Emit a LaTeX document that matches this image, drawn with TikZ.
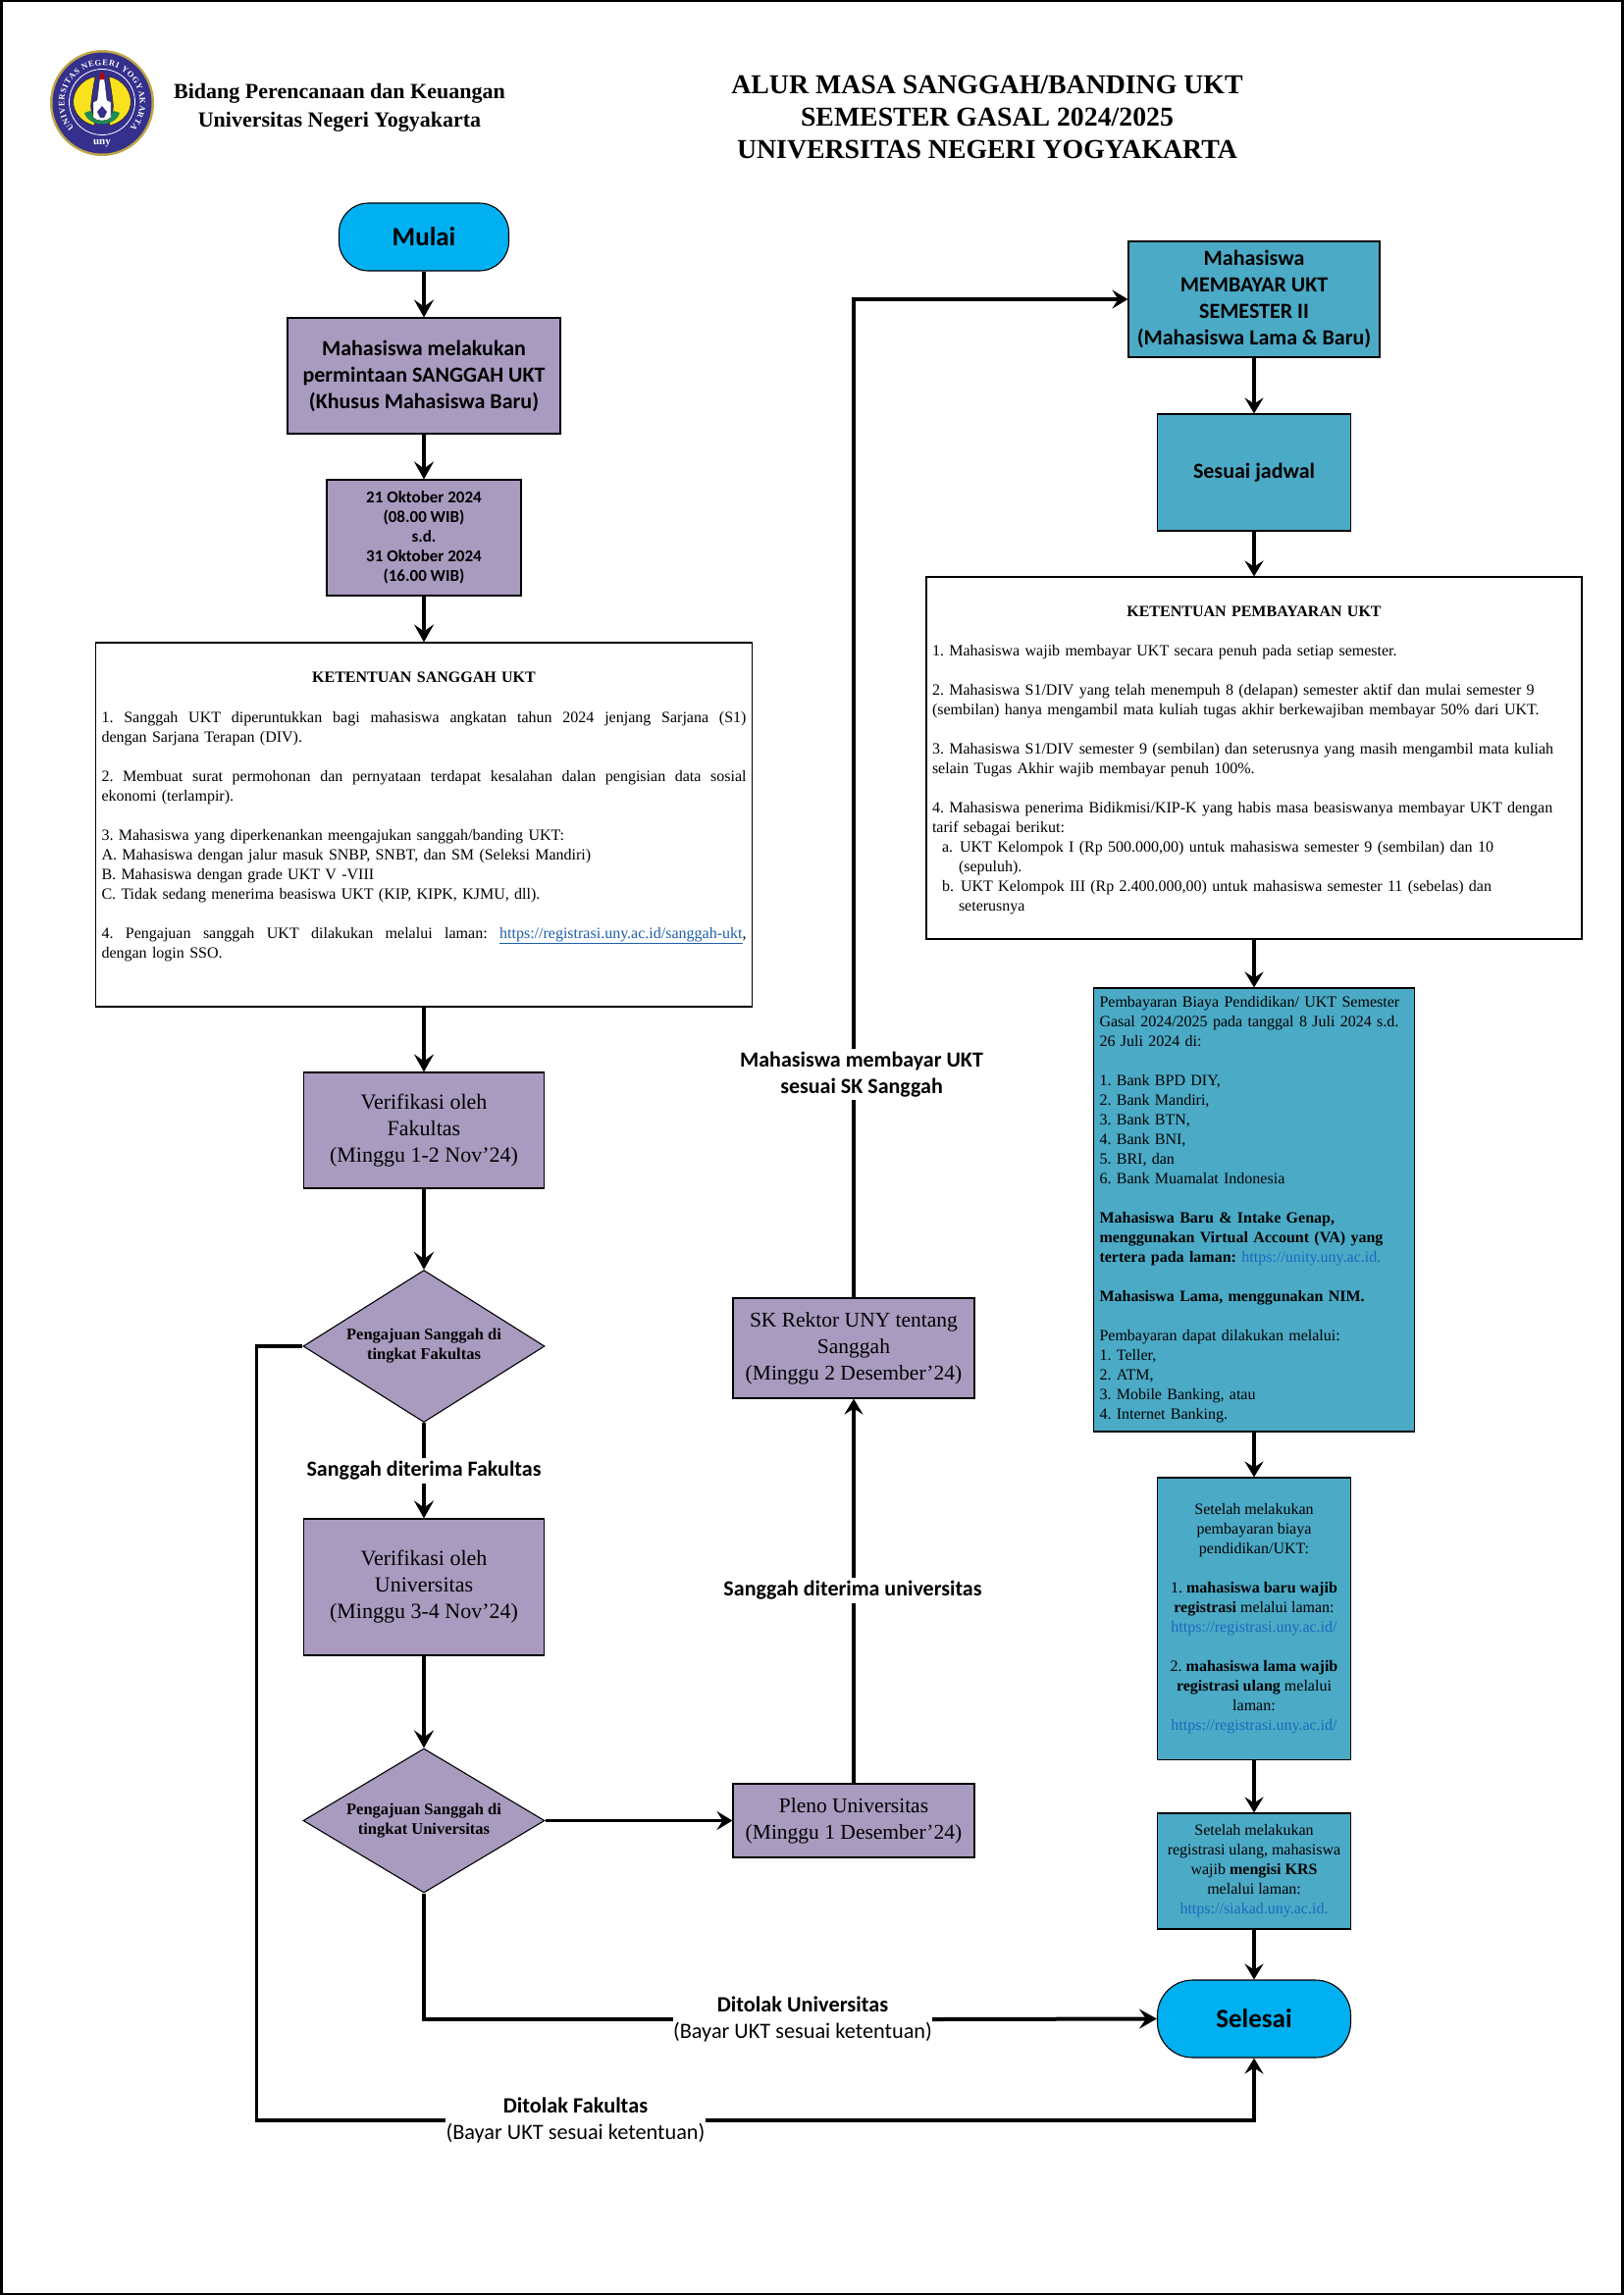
\documentclass[tikz,border=0pt]{standalone}
\usepackage{fontspec}
\setmainfont{Liberation Serif}
\newfontfamily\carl{Carlito}
\usetikzlibrary{shapes.geometric,arrows.meta,decorations.text}
\definecolor{purp}{RGB}{168,155,191}
\definecolor{teal2}{RGB}{75,170,198}
\definecolor{sky}{RGB}{0,176,240}
\definecolor{linkl}{RGB}{31,95,168}
\definecolor{linkt}{RGB}{27,105,190}
\definecolor{unyblue}{RGB}{53,48,140}
\definecolor{unygold}{RGB}{190,165,70}
\definecolor{unyyel}{RGB}{250,225,30}
\definecolor{unygreen}{RGB}{30,140,80}
\newcommand{\fs}[2]{\fontsize{#1}{#2}\selectfont}
\newcommand{\jl}[2]{\makebox[#1][s]{\spaceskip=0pt\xspaceskip=0pt #2}}
\tikzset{
  x=1pt,y=-1pt,
  base/.style={draw=black,line width=1.1pt,inner sep=0pt,align=center,text=black},
  purpbox/.style={base,fill=purp},
  tealbox/.style={base,fill=teal2},
  terminal/.style={base,fill=sky,font={\carl\bfseries\fs{27}{30}}},
  cb/.style={font={\carl\bfseries\fs{22}{27}}},
  tm/.style={font={\fs{22}{27}}},
  tmw/.style={font={\fs{21.5}{27}}},
  ts/.style={font={\frenchspacing\fs{16}{20}}},
  decide/.style={purpbox,diamond,font={\bfseries\fs{16.5}{20}}},
  lab/.style={inner sep=0pt,inner ysep=3pt,align=center,font={\carl\bfseries\fs{22}{27}}},
  rej/.style={inner sep=0pt,align=center,font={\carl\fs{22.3}{27}}},
  conn/.style={line width=4pt,-{Stealth[length=18pt,width=20pt,inset=7pt]}},
  connr/.style={line width=3.2pt,-{Stealth[length=16pt,width=19pt,inset=6pt]}},
  plain4/.style={line width=4pt},
  plain3/.style={line width=3.2pt},
}
\begin{document}
\begin{tikzpicture}
\useasboundingbox (0,0) rectangle (1654,2339);
\draw[line width=3pt] (1,1) rectangle (1653,2338);

% logo
\begin{scope}[shift={(104,105)},y=1pt]
  \fill[unygold] (0,0) ellipse[x radius=53,y radius=54];
  \fill[unyblue] (0,0) ellipse[x radius=50.5,y radius=51.5];
  \path[decorate,decoration={text along path,text align={fit to path},
     text={|\color{white}\bfseries\fs{8.5}{9}|UNIVERSITAS NEGERI YOGYAKARTA}}]
     (222:38.5) arc[start angle=222,end angle=-42,radius=38.5];
  \draw[white,line width=.8pt] (0,1) circle[radius=33.5];
  \fill[unyyel,draw=black,line width=.3pt] (-7,27) .. controls (-22,24) and (-31,10) .. (-29,-2) .. controls (-27,-14) and (-17,-21) .. (-7,-23) .. controls (-11,-12) and (-12,-6) .. (-11,2) .. controls (-10,10) and (-9,17) .. (-7,27) -- cycle;
  \fill[unyyel,draw=black,line width=.3pt] (7,27) .. controls (22,24) and (31,10) .. (29,-2) .. controls (27,-14) and (17,-21) .. (7,-23) .. controls (11,-12) and (12,-6) .. (11,2) .. controls (10,10) and (9,17) .. (7,27) -- cycle;
  \fill[unygreen] (-18,-10) .. controls (-14,-25) and (14,-25) .. (18,-10) -- (12,-8) .. controls (8,-16) and (-8,-16) .. (-12,-8) -- cycle;
  \fill[white,draw=black,line width=.25pt] (-2.5,24) -- (2.5,24) -- (5,3) -- (9,1) -- (9,-15) .. controls (5,-19) and (-5,-19) .. (-9,-15) -- (-9,1) -- (-5,3) -- cycle;
  \fill[red!75!black] (0,33) .. controls (-2.5,28) and (-2.5,25) .. (-2.5,24) -- (2.5,24) .. controls (2.5,25) and (2.5,28) .. (0,33) -- cycle;
  \fill[unyblue] (0,-3) -- (5,-9) -- (2,-15) -- (-2,-15) -- (-5,-9) -- cycle;
  \node[text=white,inner sep=0pt,font={\bfseries\fs{11}{11}}] (unymark) at (0,-41) {uny};
\end{scope}

% header
\node[inner sep=0pt,align=center,font={\bfseries\fs{22}{28.5}}] (hdr) at (346,110) {Bidang Perencanaan dan Keuangan\\Universitas Negeri Yogyakarta};
\node[inner sep=0pt,align=center,font={\bfseries\fs{27.8}{33}}] (title) at (1006,120) {ALUR MASA SANGGAH/BANDING UKT\\SEMESTER GASAL 2024/2025\\UNIVERSITAS NEGERI YOGYAKARTA};

% left column
\node[terminal,rounded corners=30pt,minimum width=173pt,minimum height=69pt] (mulai) at (432,241.5) {Mulai};
\node[purpbox,cb,minimum width=278pt,minimum height=118pt] (b1) at (432,383) {Mahasiswa melakukan\\permintaan SANGGAH UKT\\(Khusus Mahasiswa Baru)};
\node[purpbox,font={\carl\bfseries\fs{17}{20}},minimum width=198pt,minimum height=118pt] (b2) at (432,548) {21 Oktober 2024\\(08.00 WIB)\\s.d.\\31 Oktober 2024\\(16.00 WIB)};
\node[base,fill=white,ts,inner xsep=6pt,text width=657pt,align=left,minimum height=371pt] (b3) at (432,840.5) {%
\makebox[657pt][c]{\bfseries KETENTUAN SANGGAH UKT}\\[21.5pt]
\jl{657pt}{1. Sanggah UKT diperuntukkan bagi mahasiswa angkatan tahun 2024 jenjang Sarjana (S1)}\\
dengan Sarjana Terapan (DIV).\\[20pt]
\jl{657pt}{2. Membuat surat permohonan dan pernyataan terdapat kesalahan dalan pengisian data sosial}\\
ekonomi (terlampir).\\[20pt]
3. Mahasiswa yang diperkenankan meengajukan sanggah/banding UKT:\\
A. Mahasiswa dengan jalur masuk SNBP, SNBT, dan SM (Seleksi Mandiri)\\
B. Mahasiswa dengan grade UKT V -VIII\\
C. Tidak sedang menerima beasiswa UKT (KIP, KIPK, KJMU, dll).\\[20pt]
\jl{657pt}{4. Pengajuan sanggah UKT dilakukan melalui laman: \textcolor{linkl}{\underline{https://registrasi.uny.ac.id/sanggah-ukt}},}\\
dengan login SSO.\\[-0.5pt]\mbox{}};
\node[purpbox,tm,minimum width=245pt,minimum height=118pt] (vf) at (432,1152) {Verifikasi oleh\\Fakultas\\(Minggu 1-2 Nov’24)};
\node[decide,minimum width=246pt,minimum height=155pt,aspect=1.587] (df) at (432,1372) {Pengajuan Sanggah di\\tingkat Fakultas};
\node[lab] (lsf) at (432,1499) {Sanggah diterima Fakultas};
\node[purpbox,tm,minimum width=245pt,minimum height=139pt] (vu) at (432,1617.5) {Verifikasi oleh\\Universitas\\(Minggu 3-4 Nov’24)};
\node[decide,minimum width=246pt,minimum height=147pt,aspect=1.673] (du) at (432,1855.5) {Pengajuan Sanggah di\\tingkat Universitas};

% middle column
\node[purpbox,tmw,minimum width=246pt,minimum height=75pt] (pleno) at (870,1855.5) {Pleno Universitas\\(Minggu 1 Desember’24)};
\node[lab] (lsu) at (869,1621) {Sanggah diterima universitas};
\node[purpbox,tmw,minimum width=246pt,minimum height=102pt] (sk) at (870,1374) {SK Rektor UNY tentang\\Sanggah\\(Minggu 2 Desember’24)};
\node[lab] (lsk) at (878,1095) {Mahasiswa membayar UKT\\sesuai SK Sanggah};

% right column
\node[tealbox,cb,minimum width=256pt,minimum height=118pt] (m) at (1278,305) {Mahasiswa\\MEMBAYAR UKT\\SEMESTER II\\(Mahasiswa Lama \& Baru)};
\node[tealbox,cb,minimum width=197pt,minimum height=119pt] (sj) at (1278,481.5) {Sesuai jadwal};
\node[base,fill=white,ts,inner xsep=6pt,text width=656pt,align=left,minimum height=369pt] (k2) at (1278,772.5) {%
\makebox[656pt][c]{\rule{0pt}{15pt}\bfseries KETENTUAN PEMBAYARAN UKT}\\[20pt]
1. Mahasiswa wajib membayar UKT secara penuh pada setiap semester.\\[20pt]
2. Mahasiswa S1/DIV yang telah menempuh 8 (delapan) semester aktif dan mulai semester 9\\
(sembilan) hanya mengambil mata kuliah tugas akhir berkewajiban membayar 50\% dari UKT.\\[20pt]
3. Mahasiswa S1/DIV semester 9 (sembilan) dan seterusnya yang masih mengambil mata kuliah\\
selain Tugas Akhir wajib membayar penuh 100\%.\\[20pt]
4. Mahasiswa penerima Bidikmisi/KIP-K yang habis masa beasiswanya membayar UKT dengan\\
tarif sebagai berikut:\\
\hspace*{10pt}a.\hspace*{7pt}UKT Kelompok I (Rp 500.000,00) untuk mahasiswa semester 9 (sembilan) dan 10\\
\hspace*{27pt}(sepuluh).\\
\hspace*{10pt}b.\hspace*{7pt}UKT Kelompok III (Rp 2.400.000,00) untuk mahasiswa semester 11 (sebelas) dan\\
\hspace*{27pt}seterusnya};
\node[tealbox,ts,inner xsep=6pt,text width=315pt,align=left,minimum height=452pt] (bp) at (1278,1233) {%
Pembayaran Biaya Pendidikan/ UKT Semester\\
Gasal 2024/2025 pada tanggal 8 Juli 2024 s.d.\\
26 Juli 2024 di:\\[20pt]
1. Bank BPD DIY,\\
2. Bank Mandiri,\\
3. Bank BTN,\\
4. Bank BNI,\\
5. BRI, dan\\
6. Bank Muamalat Indonesia\\[20pt]
\textbf{Mahasiswa Baru \& Intake Genap,}\\
\textbf{menggunakan Virtual Account (VA) yang}\\
\textbf{tertera pada laman:} \textcolor{linkt}{https://unity.uny.ac.id.}\\[20pt]
\textbf{Mahasiswa Lama, menggunakan NIM.}\\[20pt]
Pembayaran dapat dilakukan melalui:\\
1. Teller,\\
2. ATM,\\
3. Mobile Banking, atau\\
4. Internet Banking.};
\node[tealbox,ts,minimum width=197pt,minimum height=287.5pt] (s1) at (1278,1649.75) {%
Setelah melakukan\\pembayaran biaya\\pendidikan/UKT:\\[20pt]
1. \textbf{mahasiswa baru wajib}\\\textbf{registrasi} melalui laman:\\\textcolor{linkt}{https://registrasi.uny.ac.id/}\\[20pt]
2. \textbf{mahasiswa lama wajib}\\\textbf{registrasi ulang} melalui\\laman:\\\textcolor{linkt}{https://registrasi.uny.ac.id/}};
\node[tealbox,ts,minimum width=197pt,minimum height=118pt] (s2) at (1278,1907) {%
Setelah melakukan\\registrasi ulang, mahasiswa\\wajib \textbf{mengisi KRS}\\melalui laman:\\\textcolor{linkt}{https://siakad.uny.ac.id.}};
\node[terminal,rounded corners=36pt,minimum width=197pt,minimum height=79pt] (sel) at (1278,2057.5) {Selesai};

% rejection labels
\node[rej] (lbu) at (818,2058) {\textbf{Ditolak Universitas}\\(Bayar UKT sesuai ketentuan)};
\node[rej] (lbf) at (586.5,2161) {\textbf{Ditolak Fakultas}\\(Bayar UKT sesuai ketentuan)};
\coordinate (cf) at (261.6,2161);

% connectors
\draw[conn] (mulai.south) -- (b1.north);
\draw[conn] (b1.south) -- (b2.north);
\draw[conn] (b2.south) -- (b3.north);
\draw[conn] (b3.south) -- (vf.north);
\draw[conn] (vf.south) -- (df.north);
\draw[plain4] (df.south) -- (lsf.north);
\draw[conn] (lsf.south) -- (vu.north);
\draw[conn] (vu.south) -- (du.north);
\draw[connr] (du.east) -- (pleno.west);
\draw[plain3] (pleno.north) -- (pleno.north |- lsu.south);
\draw[connr] (pleno.north |- lsu.north) -- (sk.south);
\draw[plain3] (sk.north) -- (sk.north |- lsk.south);
\draw[connr] (sk.north |- lsk.north) |- (m.west);
\draw[connr] (m.south) -- (sj.north);
\draw[connr] (sj.south) -- (k2.north);
\draw[connr] (k2.south) -- (bp.north);
\draw[connr] (bp.south) -- (s1.north);
\draw[connr] (s1.south) -- (s2.north);
\draw[connr] (s2.south) -- (sel.north);
\draw[plain4] (du.south) |- (lbu.west);
\draw[conn] (lbu.east) -- (sel.west);
\draw[plain3] (df.west) -| (cf) -- (lbf.west);
\draw[connr] (lbf.east) -| (sel.south);
\end{tikzpicture}
\end{document}
